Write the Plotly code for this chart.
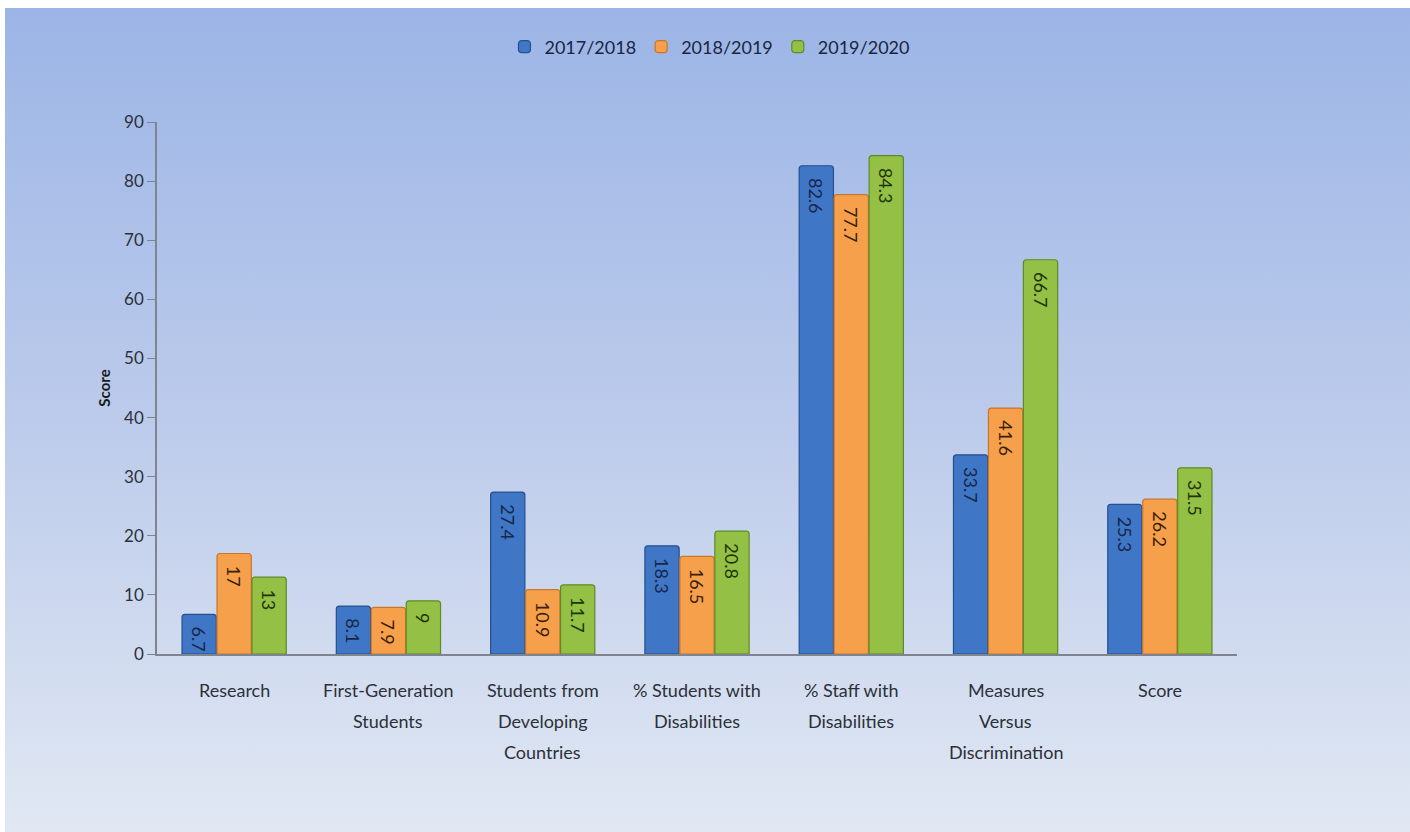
import base64
import plotly.graph_objects as go

categories = ["Research", "First-Generation\nStudents", "Students from\nDeveloping\nCountries",
              "% Students with\nDisabilities", "% Staff with\nDisabilities",
              "Measures\nVersus\nDiscrimination", "Score"]
series_names = ["2017/2018", "2018/2019", "2019/2020"]
v2017 = [6.7, 8.1, 27.4, 18.3, 82.6, 33.7, 25.3]
v2018 = [17, 7.9, 10.9, 16.5, 77.7, 41.6, 26.2]
v2019 = [13, 9, 11.7, 20.8, 84.3, 66.7, 31.5]
y_ticks = [0, 10, 20, 30, 40, 50, 60, 70, 80, 90]

W, H = 1410, 832
L, R, T, B = 157, 173, 122, 178
pw, ph = W - L - R, H - T - B

fills = ["#3f76c5", "#f7a04c", "#93c045"]
edges = ["#24508f", "#c9752a", "#5f8a25"]
txtc = ["#17264a", "#3a2008", "#1f3308"]
FONT = "Lato, 'Open Sans', sans-serif"

fig = go.Figure()
for name, vals, fc, ec, tc in zip(series_names, [v2017, v2018, v2019], fills, edges, txtc):
    fig.add_trace(go.Bar(
        x=categories, y=vals, name=name,
        marker=dict(color=fc, line=dict(color=ec, width=1.2), cornerradius=3),
        texttemplate="\u00a0\u00a0%{y}", textposition="inside", insidetextanchor="end",
        textangle=90, constraintext="none",
        textfont=dict(family=FONT, size=18, color=tc),
    ))

svg = ('<svg xmlns="http://www.w3.org/2000/svg" width="100" height="100" preserveAspectRatio="none">'
       '<defs><linearGradient id="g" x1="0" y1="0" x2="0" y2="1">'
       '<stop offset="0" stop-color="#9cb5e6"/><stop offset="0.5" stop-color="#bccbeb"/>'
       '<stop offset="1" stop-color="#e1e8f3"/></linearGradient></defs>'
       '<rect width="100" height="100" fill="url(#g)"/></svg>')
src = "data:image/svg+xml;base64," + base64.b64encode(svg.encode()).decode()

x0px, y0px = 5, 8
fig.add_layout_image(dict(
    source=src, xref="paper", yref="paper",
    x=(x0px - L) / pw, y=(H - B - y0px) / ph,
    sizex=(W - x0px) / pw, sizey=(H - y0px) / ph,
    xanchor="left", yanchor="top", sizing="stretch", layer="below",
))

annotations = []
for cat in categories:
    for j, line in enumerate(cat.split("\n")):
        annotations.append(dict(
            x=cat, xref="x", yref="paper", y=(H - B - (690 + 31 * j)) / ph,
            text=line, showarrow=False, yanchor="middle",
            font=dict(family=FONT, size=18, color="#2c3038"),
        ))

fig.update_layout(
    width=W, height=H,
    margin=dict(l=L, r=R, t=T, b=B),
    paper_bgcolor="white", plot_bgcolor="rgba(0,0,0,0)",
    barmode="group", bargap=0.32, bargroupgap=0.02,
    font=dict(family=FONT, size=17, color="#2c3038"),
    legend=dict(orientation="h", x=0.512, xanchor="center", y=(H - B - 47) / ph, yanchor="middle",
                font=dict(family=FONT, size=18, color="#1a2540"), bgcolor="rgba(0,0,0,0)",
                itemwidth=30, tracegroupgap=0),
    annotations=annotations,
    showlegend=True,
)
fig.update_xaxes(showticklabels=False, showline=True, linecolor="#7f8590", linewidth=1.5,
                 ticks="", showgrid=False, zeroline=False)
fig.update_yaxes(range=[0, 90], tickvals=y_ticks, showline=True, linecolor="#7f8590", linewidth=1.5,
                 ticks="outside", ticklen=8, tickcolor="#7f8590", showgrid=False, zeroline=False,
                 tickfont=dict(family=FONT, size=17, color="#2c3038"),
                 title=dict(text="<b>Score</b>", font=dict(family=FONT, size=15, color="#1a1a1a"), standoff=10))

fig.write_html("out.html", config={"displayModeBar": False},
               post_script="document.body.style.margin='0';document.body.style.overflow='hidden';")
